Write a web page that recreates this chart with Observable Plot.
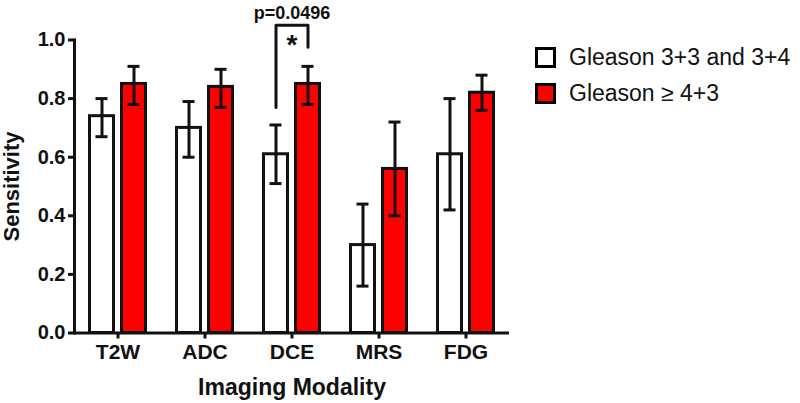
<!DOCTYPE html>
<html>
<head>
<meta charset="utf-8">
<script src="https://cdn.jsdelivr.net/npm/d3@7"></script>
<script src="https://cdn.jsdelivr.net/npm/@observablehq/plot@0.6"></script>
<style>
  html, body { margin: 0; padding: 0; background: #fff; }
  #wrap { position: relative; width: 800px; height: 403px; font-family: "Liberation Sans", Arial, sans-serif; }
  .leg { position: absolute; left: 535px; display: flex; align-items: center; font-size: 23px; color: #111; }
  .sw { width: 15px; height: 15px; border: 3px solid #000; margin-right: 13px; }
</style>
</head>
<body>
<div id="wrap"></div>
<script>
const modalities = ["T2W", "ADC", "DCE", "MRS", "FDG"];
const groups = ["Gleason 3+3 and 3+4", "Gleason \u2265 4+3"];
const groupColors = ["#ffffff", "#ff0000"];
const lowValue = [0.74, 0.70, 0.61, 0.30, 0.61];
const lowLower = [0.67, 0.60, 0.51, 0.16, 0.42];
const lowUpper = [0.80, 0.79, 0.71, 0.44, 0.80];
const highValue = [0.85, 0.84, 0.85, 0.56, 0.82];
const highLower = [0.78, 0.77, 0.78, 0.40, 0.76];
const highUpper = [0.91, 0.90, 0.91, 0.72, 0.88];
const yTicks = [0, 0.2, 0.4, 0.6, 0.8, 1.0];
const sigModality = "DCE";
const sigLabel = "p=0.0496";
const bracketY = [0.77, 1.05, 1.05, 0.975];

const rows = [];
modalities.forEach((m, i) => {
  rows.push({modality: m, group: groups[0], value: lowValue[i], lo: lowLower[i], hi: lowUpper[i]});
  rows.push({modality: m, group: groups[1], value: highValue[i], lo: highLower[i], hi: highUpper[i]});
});
const bracket = [
  {modality: sigModality, group: groups[0], y: bracketY[0]},
  {modality: sigModality, group: groups[0], y: bracketY[1]},
  {modality: sigModality, group: groups[1], y: bracketY[2]},
  {modality: sigModality, group: groups[1], y: bracketY[3]}
];
const annot = [{modality: sigModality, star: "*", p: sigLabel}];

const chart = Plot.plot({
  width: 800,
  height: 403,
  marginLeft: 71.5,
  marginRight: 289,
  marginTop: 39.5,
  marginBottom: 70.5,
  style: {fontFamily: "Liberation Sans, Arial, sans-serif", fontWeight: "bold", color: "#111", background: "#fff"},
  fx: {domain: modalities, padding: 0},
  x: {domain: groups, paddingInner: 0.26, paddingOuter: 0.48, axis: null},
  y: {domain: [0, 1]},
  color: {domain: groups, range: groupColors},
  marks: [
    Plot.barY(rows, {fx: "modality", x: "group", y: "value", fill: "group", stroke: "#111", strokeWidth: 3}),
    Plot.ruleX(rows, {fx: "modality", x: "group", y1: "lo", y2: "hi", stroke: "#111", strokeWidth: 3}),
    Plot.tickY(rows, {fx: "modality", x: "group", y: "lo", stroke: "#111", strokeWidth: 3, insetLeft: 6, insetRight: 6}),
    Plot.tickY(rows, {fx: "modality", x: "group", y: "hi", stroke: "#111", strokeWidth: 3, insetLeft: 6, insetRight: 6}),
    Plot.ruleY([0], {stroke: "#111", strokeWidth: 3}),
    Plot.line(bracket, {fx: "modality", x: "group", y: "y", stroke: "#111", strokeWidth: 3}),
    Plot.text(annot, {fx: "modality", y: 1.0, text: "star", fontSize: 28, fill: "#111", dy: 5}),
    Plot.text(annot, {fx: "modality", y: 1.093, text: "p", fontSize: 18, fill: "#111"}),
    Plot.frame({anchor: "left", stroke: "#111", strokeWidth: 3, facetAnchor: "left"}),
    Plot.axisY({ticks: yTicks, tickFormat: d3.format(".1f"), tickSize: 6, tickPadding: 3, strokeWidth: 3, fontSize: 20, label: null}),
    Plot.axisY({ticks: [], label: "Sensitivity", labelAnchor: "center", labelArrow: false, labelOffset: 71, fontSize: 22}),
    Plot.axisFx({anchor: "bottom", tickSize: 6, tickPadding: 5, strokeWidth: 3, fontSize: 21, label: null}),
    Plot.axisFx({anchor: "bottom", ticks: [], label: "Imaging Modality", labelAnchor: "center", labelArrow: false, labelOffset: 62, fontSize: 23})
  ]
});
const wrap = document.getElementById("wrap");
chart.style.position = "absolute";
chart.style.left = "0";
chart.style.top = "0";
wrap.appendChild(chart);

groups.forEach((g, i) => {
  const d = document.createElement("div");
  d.className = "leg";
  d.style.top = (i === 0 ? 43 : 79) + "px";
  d.style.height = "29px";
  const sw = document.createElement("div");
  sw.className = "sw";
  sw.style.background = groupColors[i];
  const t = document.createElement("span");
  t.textContent = g;
  d.appendChild(sw);
  d.appendChild(t);
  wrap.appendChild(d);
});
</script>
</body>
</html>
